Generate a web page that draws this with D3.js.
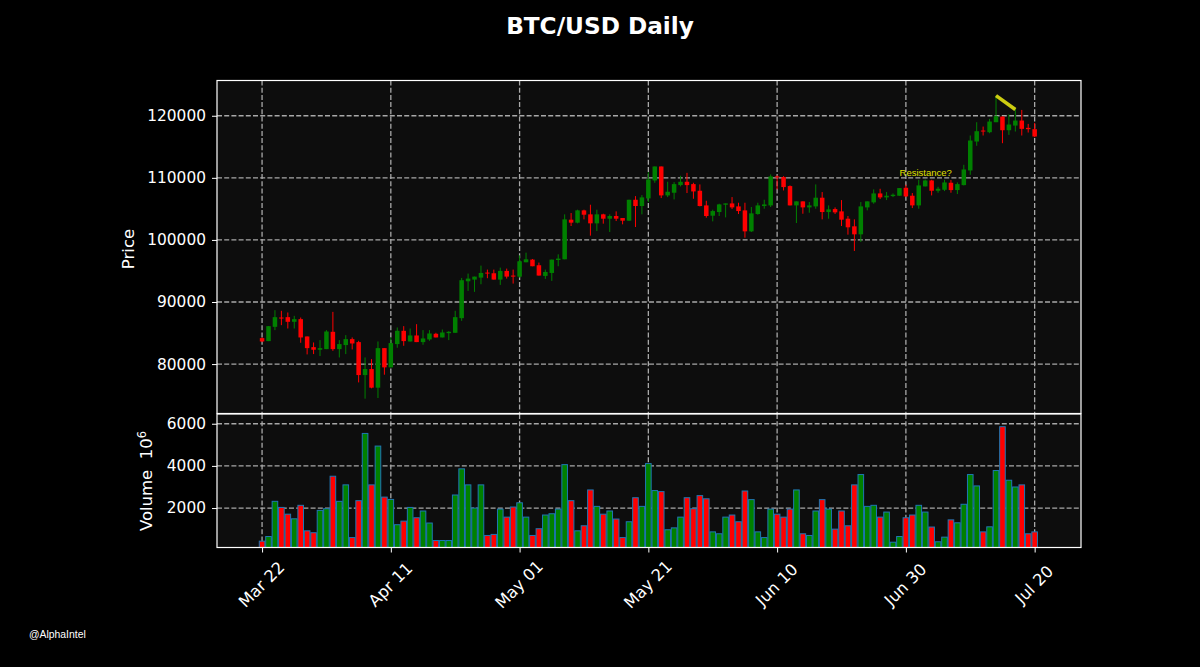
<!DOCTYPE html>
<html>
<head>
<meta charset="utf-8">
<title>BTC/USD Daily</title>
<script src="https://cdn.jsdelivr.net/npm/d3@7"></script>
<style>
  html, body { margin: 0; padding: 0; background: #000; }
  text { font-family: "DejaVu Sans", sans-serif; fill: #fff; }
</style>
</head>
<body>
<svg id="chart" width="1200" height="667"></svg>
<script>
var tickIdx = [0, 20, 40, 60, 80, 100, 120];
var tickLabels = ["Mar 22", "Apr 11", "May 01", "May 21", "Jun 10", "Jun 30", "Jul 20"];
var priceTicks = [80000, 90000, 100000, 110000, 120000];
var volTicks = [2000, 4000, 6000];

var opens = [84180,83700,86000,87500,87560,86810,87240,84450,82730,82310,82410,85200,82410,83060,84020,83540,78230,79200,76200,82570,
  79470,83220,85360,83640,84610,83540,83970,84880,84290,84980,85040,87400,93340,93610,93930,94740,94630,93610,95010,94260,
  94090,96400,96830,95920,94200,94680,96770,96880,103260,102780,104760,104120,102670,104120,103420,103850,103530,103100,106470,105460,
  106690,109580,111830,107170,107600,108830,109370,108990,107920,105560,103900,104490,105670,105880,105400,104760,101380,104170,105460,105560,
  110230,110120,108670,105560,106210,105240,105400,106800,104490,104970,104600,103420,102190,100900,105240,106050,107490,106850,107060,107120,
  108400,107120,105560,108620,109580,107920,108080,109210,108030,108830,111190,115850,117620,117350,118960,119870,117670,118420,119230,118050,
  117840];
var highs = [84290,86110,88680,88580,88310,87770,87500,84450,83480,83860,85470,88410,83860,84660,84290,83750,81070,80800,83640,82570,
  84290,85900,86110,85730,86430,85470,85470,85040,85570,85310,88580,93880,94580,94090,95860,95220,95220,95540,95380,95220,
  97520,97950,96930,96350,95220,96830,97680,104120,104330,104870,104870,105670,104870,104220,104120,104600,103530,106470,107060,107220,
  110920,111830,111830,109370,109310,110330,110810,109210,108940,106310,104870,105830,105880,106900,105990,105990,105300,105990,106470,110550,
  110390,110280,108780,106210,106210,106100,108940,107710,105560,105240,106420,103850,103310,106100,106210,108140,108240,107710,107490,108350,
  108890,107550,109690,109740,109690,108560,109690,109640,109260,112100,116820,118960,118260,119500,123250,119870,120190,121100,120940,118690,
  118850];
var lows = [83540,83700,85470,86270,85730,85730,83430,81560,81610,81290,82410,82140,81070,81610,82360,77050,74430,76090,74530,78290,
  79470,82630,82950,83640,83540,83110,83750,84290,84290,83860,85040,86970,91790,91630,92860,93830,93610,92750,93770,92970,
  93930,96400,95760,94260,93720,93400,95760,96880,102240,102670,103310,100690,101440,102620,101280,103040,102510,103040,102080,104120,
  106100,109210,106740,106900,106530,108620,107550,106630,105400,103580,102990,103850,103630,104970,104170,100360,101280,104060,105030,105300,
  108140,107970,105560,102720,104220,104380,105030,103310,103420,104170,102240,100850,98220,99670,104760,105830,106580,106420,106900,107120,
  106900,105130,105030,108620,107170,107600,107870,107600,107390,108780,110490,115160,116820,117190,118960,115580,116920,117460,116820,117300,
  116550];
var closes = [83640,86110,87560,87400,86810,87240,84290,82570,82310,82570,85250,82410,83220,84020,83320,78230,79200,76200,82570,79470,
  83380,85360,83700,84610,83540,84130,84930,84290,85090,85200,87560,93510,93770,94090,94680,94630,93610,95010,94090,94090,
  96560,96880,95760,94260,94840,96830,96990,103310,102780,104760,104060,102670,104120,103420,103850,103420,103100,106470,105460,106850,
  109740,111830,107170,107760,108990,109370,108830,107810,105460,103850,104650,105720,105880,105240,104650,101380,104280,105560,105720,110230,
  110120,108510,105560,106210,105240,105560,106800,104490,104920,104440,103260,102030,100900,105400,106210,107490,106850,107120,107280,108350,
  107010,105560,108780,109580,107920,108240,109260,108030,108990,111350,116010,117510,117460,119070,119930,117670,118590,119230,117890,117840,
  116660];
var volumes = [430,650,2320,2030,1710,1490,2130,920,830,1890,1970,3510,2320,3100,600,2350,5540,3100,4940,2520,
  2410,1210,1380,2030,1540,1860,1290,460,460,460,2620,3860,3100,2000,3100,700,750,1950,1570,2050,
  2250,1570,700,1020,1670,1730,1950,4060,2350,920,1160,2860,2080,1710,1860,1480,600,1350,2490,2080,
  4110,2830,2780,970,1060,1570,2490,1970,2590,2440,870,780,1570,1670,1350,2810,2400,870,600,1950,
  1710,1570,1950,2860,780,700,1860,2400,1950,1000,1860,1160,3100,3590,2080,2130,1570,1810,380,650,
  1540,1670,2130,1810,1100,400,620,1440,1300,2180,3590,3050,870,1110,3780,5860,3320,3000,3100,780,
  870];

// hand drawn stuff on the chart
var trendIdx = [114, 117];
var trendPrice = [123250, 121000];
var noteIdx = 103;
var notePrice = 110270;
var noteText = "Resistance?";

var svg = d3.select("#chart");

var left = 217, right = 1081;
var priceTop = 80.5, priceBottom = 413.5, volTop = 414, volBottom = 547.5;

var x = d3.scaleLinear().domain([-7, 127.2]).range([left, right]);
var yPrice = d3.scaleLinear().domain([72040, 125680]).range([priceBottom, priceTop]);
var yVol = d3.scaleLinear().domain([129, 6462]).range([volBottom, volTop]);

var step = x(1) - x(0);
var bodyW = step * 0.7;
var barW = step * 0.87;

var upColor = "#008000";
var downColor = "#ff0000";
function candleColor(i) {
  return closes[i] >= opens[i] ? upColor : downColor;
}

// panel backgrounds
svg.append("rect").attr("x", left).attr("y", priceTop)
  .attr("width", right - left).attr("height", priceBottom - priceTop).attr("fill", "#0d0d0d");
svg.append("rect").attr("x", left).attr("y", volTop)
  .attr("width", right - left).attr("height", volBottom - volTop).attr("fill", "#0d0d0d");

function grid(g, xs, ys, y0, y1) {
  g.selectAll("line.gx").data(xs).enter().append("line")
    .attr("x1", d => x(d)).attr("x2", d => x(d)).attr("y1", y0).attr("y2", y1);
  g.selectAll("line.gy").data(ys).enter().append("line")
    .attr("x1", left).attr("x2", right).attr("y1", d => d).attr("y2", d => d);
  g.selectAll("line")
    .attr("stroke", "#a8a8a8").attr("stroke-width", 1.3).attr("stroke-dasharray", "5,2.2");
}

grid(svg.append("g"), tickIdx, priceTicks.map(d => yPrice(d)), priceTop, priceBottom);
grid(svg.append("g"), tickIdx, volTicks.map(d => yVol(d)), volTop, volBottom);

var idx = d3.range(opens.length);

// candles
var candles = svg.append("g");
candles.selectAll("line").data(idx).enter().append("line")
  .attr("x1", d => x(d)).attr("x2", d => x(d))
  .attr("y1", d => yPrice(highs[d])).attr("y2", d => yPrice(lows[d]))
  .attr("stroke", d => candleColor(d)).attr("stroke-width", 1);
candles.selectAll("rect").data(idx).enter().append("rect")
  .attr("x", d => x(d) - bodyW / 2).attr("width", bodyW)
  .attr("y", d => yPrice(Math.max(opens[d], closes[d])))
  .attr("height", d => Math.max(1, Math.abs(yPrice(opens[d]) - yPrice(closes[d]))))
  .attr("fill", d => candleColor(d));

// volume
svg.append("g").selectAll("rect").data(idx).enter().append("rect")
  .attr("x", d => x(d) - barW / 2).attr("width", barW)
  .attr("y", d => yVol(volumes[d]))
  .attr("height", d => volBottom - yVol(volumes[d]))
  .attr("fill", d => candleColor(d))
  .attr("stroke", "#1f77b4").attr("stroke-width", 1);

// annotations
svg.append("line")
  .attr("x1", x(trendIdx[0])).attr("y1", yPrice(trendPrice[0]))
  .attr("x2", x(trendIdx[1])).attr("y2", yPrice(trendPrice[1]))
  .attr("stroke", "#cccc11").attr("stroke-width", 3.6);
svg.append("text")
  .attr("x", x(noteIdx) + 0.5).attr("y", yPrice(notePrice))
  .attr("text-anchor", "middle")
  .style("font-family", '"Liberation Sans", sans-serif')
  .style("font-size", "9.5px").style("fill", "#e0e000")
  .text(noteText);

// spines
[[priceTop, priceBottom], [volTop, volBottom]].forEach(function(p) {
  svg.append("rect").attr("x", left).attr("y", p[0])
    .attr("width", right - left).attr("height", p[1] - p[0])
    .attr("fill", "none").attr("stroke", "#fff").attr("stroke-width", 1.2);
});

// axes
var axisPrice = svg.append("g").attr("transform", "translate(" + left + ",0)")
  .call(d3.axisLeft(yPrice).tickValues(priceTicks).tickFormat(d3.format("d")).tickSize(5).tickPadding(6));
var axisVol = svg.append("g").attr("transform", "translate(" + left + ",0)")
  .call(d3.axisLeft(yVol).tickValues(volTicks).tickFormat(d3.format("d")).tickSize(5).tickPadding(6));
var axisDate = svg.append("g").attr("transform", "translate(0," + volBottom + ")")
  .call(d3.axisBottom(x).tickValues(tickIdx).tickFormat((d, i) => tickLabels[i]).tickSize(5));

[axisPrice, axisVol, axisDate].forEach(function(a) {
  a.select(".domain").remove();
  a.selectAll("line").attr("stroke", "#fff").attr("stroke-width", 1);
  a.selectAll("text").style("font-family", '"DejaVu Sans", sans-serif').style("font-size", "15.4px").attr("fill", "#fff");
});

axisDate.selectAll("text")
  .attr("text-anchor", "middle")
  .attr("y", 0).attr("dy", "0.35em")
  .attr("transform", "translate(-1,37) rotate(-45)")
  .style("font-size", "16.3px");

// titles and labels
svg.append("text").attr("x", 600).attr("y", 34).attr("text-anchor", "middle")
  .style("font-weight", "bold").style("font-size", "23.2px").text("BTC/USD Daily");

svg.append("text").attr("transform", "translate(134,249) rotate(-90)")
  .attr("text-anchor", "middle").style("font-size", "16.5px").text("Price");

var volLabel = svg.append("text").attr("transform", "translate(152,481) rotate(-90)")
  .attr("text-anchor", "middle").style("font-size", "16.5px").attr("xml:space", "preserve");
volLabel.append("tspan").text("Volume  10");
volLabel.append("tspan").attr("dy", -6).style("font-size", "11.5px").text("6");

svg.append("text").attr("x", 29).attr("y", 638)
  .style("font-family", '"Liberation Sans", sans-serif')
  .style("font-size", "10.4px").text("@AlphaIntel");
</script>
</body>
</html>
